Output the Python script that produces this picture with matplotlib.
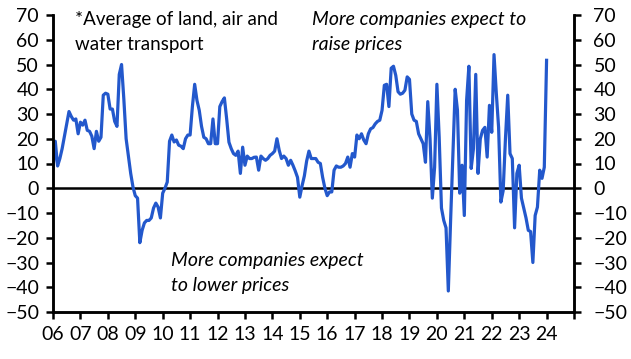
import numpy as np
import matplotlib
matplotlib.use("Agg")
from matplotlib import pyplot as plt

# monthly balance, Jan 2006 .. Jan 2024
y2006 = [8, 19, 9, 12, 16, 21, 26, 31, 29, 27.5, 28, 22]
y2007 = [26.7, 25.5, 27.5, 23.4, 23, 21, 16, 23, 19, 20.6, 37.6, 38.4]
y2008 = [38, 32, 32, 27, 25, 46, 50, 36, 20, 13, 6, 0.5]
y2009 = [-3, -4, -22, -17, -14, -13, -13, -12, -8, -6, -7.6, -12]
y2010 = [-2, 0, 2.5, 19, 21.5, 18.7, 19.5, 17.4, 17, 16, 20, 21.5]
y2011 = [21.5, 33, 42, 35.5, 31.5, 25, 20.6, 20, 18, 18, 28, 18]
y2012 = [18, 33, 35, 36.5, 28, 18.6, 16, 14, 13.3, 15, 6, 16.6]
y2013 = [9.3, 13, 12, 12, 12.5, 12.6, 7.3, 13, 12, 11.3, 12, 13.3]
y2014 = [14, 15, 20, 15.3, 12, 13, 12, 9.3, 11.3, 9.3, 7, 4.4]
y2015 = [-3.6, 1, 5, 11, 15, 12, 12, 12, 10.5, 10, 4.4, 0]
y2016 = [-3, -1.5, -1.5, 7.3, 9, 8.5, 8.5, 9, 10, 12.6, 8.5, 14]
y2017 = [12.6, 21.5, 20, 22, 19.5, 18, 22, 24, 24.5, 26, 27, 27.5]
y2018 = [31.5, 41.6, 42, 33, 48.5, 49.3, 45.6, 39, 38, 38.4, 39.6, 45]
y2019 = [44, 30, 27.5, 27, 22, 20, 18, 10.5, 35, 20, -4, 8.5]
y2020 = [42, 20.6, -8, -13, -16, -41.5, -13, 14, 40, 31.5, -2, 9.3]
y2021 = [-11, 35.5, 49.3, 8, 16, 46, 6, 20, 23.4, 24.6, 12.6, 33.5]
y2022 = [22.6, 54, 38.4, 24.6, -5.6, -1, 20, 37.6, 14, 12, -16, 6]
y2023 = [9.3, -4, -8, -12, -17, -17.5, -30, -11, -7.6, 7.3, 4, 8.5]
y2024 = [51.7]

values = (y2006 + y2007 + y2008 + y2009 + y2010 + y2011 + y2012 + y2013 + y2014
          + y2015 + y2016 + y2017 + y2018 + y2019 + y2020 + y2021 + y2022 + y2023 + y2024)
dates = 2006 + np.arange(len(values)) / 12.0

year_labels = ["06", "07", "08", "09", "10", "11", "12", "13", "14", "15",
               "16", "17", "18", "19", "20", "21", "22", "23", "24", ""]
y_ticks = list(range(-50, 71, 10))

plt.rcParams['font.family'] = ['Lato', 'DejaVu Sans']

fig = plt.figure(figsize=(6.31, 3.59), dpi=100)
ax = fig.add_axes([53 / 631, 1 - 312 / 359, 521 / 631, 297 / 359])

ax.plot(dates, values, color='#2358cc', lw=2.3, solid_joinstyle='round')
ax.axhline(0, color='black', lw=1.8, zorder=1)

ax.set_xlim(2006, 2025)
ax.set_ylim(-50, 70)

ax.set_xticks(np.arange(2006, 2026))
ax.set_xticklabels(year_labels)
ax.tick_params(axis='x', length=5, width=1.8, labelsize=14, pad=5)

ax.set_yticks(y_ticks)
ax.tick_params(axis='y', length=5, width=1.8, labelsize=14, pad=5)

# right-hand scale, same values
ax2 = ax.twinx()
ax2.set_ylim(-50, 70)
ax2.set_yticks(y_ticks)
ax2.tick_params(axis='y', length=5, width=1.8, labelsize=14, pad=9)

for a in [ax, ax2]:
    for s in ['left', 'right', 'bottom']:
        a.spines[s].set_linewidth(1.8)
    a.spines['top'].set_visible(False)

fig.text(75 / 631, 1 - 11 / 359, "*Average of land, air and\nwater transport",
         fontsize=13.5, va='top', ha='left', linespacing=1.6)
fig.text(312 / 631, 1 - 11 / 359, "More companies expect to\nraise prices",
         fontsize=14, va='top', ha='left', style='italic', linespacing=1.55)
fig.text(171 / 631, 1 - 252 / 359, "More companies expect\nto lower prices",
         fontsize=14, va='top', ha='left', style='italic', linespacing=1.55)

fig.savefig("out.png", dpi=100)
